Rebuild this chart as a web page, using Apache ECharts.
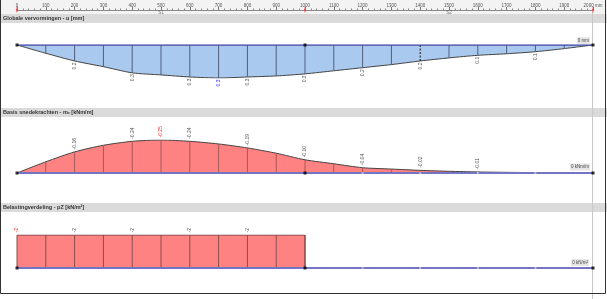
<!DOCTYPE html>
<html>
<head>
<meta charset="utf-8">
<script src="https://cdn.jsdelivr.net/npm/echarts@6/dist/echarts.min.js"></script>
<style>
html,body{margin:0;padding:0;background:#fff;}
#c{width:607px;height:299px;}
</style>
</head>
<body>
<div id="c"></div>
<script>
// ---- data ----
const positions = [0,100,200,300,400,500,600,700,800,900,1000,1100,1200,1300,1400,1500,1600,1700,1800,1900,2000];
const deflection = [0,0.08,0.155,0.21,0.27,0.29,0.31,0.32,0.31,0.30,0.28,0.25,0.22,0.19,0.155,0.125,0.10,0.085,0.065,0.035,0];
const moment = [0,-0.085,-0.16,-0.21,-0.24,-0.25,-0.24,-0.22,-0.19,-0.15,-0.10,-0.07,-0.04,-0.03,-0.02,-0.013,-0.008,-0.005,-0.003,-0.001,0];
const load = [-2,-2,-2,-2,-2,-2,-2,-2,-2,-2,-2,0,0,0,0,0,0,0,0,0,0];
const deflLabelAt = [200,400,600,700,800,1000,1200,1400,1600,1800];
const deflMaxAt = 700;
const momentLabelAt = [200,400,500,600,800,1000,1200,1400,1600];
const momentMinAt = 500;
const loadLabelAt = [0,200,400,600,800];
const loadRedAt = 0;
const zeroMarksAt = [1200,1400,1600,1800];
const nodes = [0,1000,2000];
const spanNames = ['S1','S2'];
const spanCenters = [500,1500];
const dashedAt = 1400;
const rulerMax = 2000;
const rulerUnit = 'mm';
const titles = ['Globale vervormingen - u [mm]','Basis snedekrachten - mₓ [kNm/m]','Belastingverdeling - pZ [kN/m²]'];
const endLabels = ['0 mm','0 kNm/m','0 kN/m²'];

// ---- helpers ----
const FONT = '"Liberation Sans", Arial, sans-serif';
const valAt = (arr, x) => arr[positions.indexOf(x)];
const pairs = arr => positions.map((x,i)=>[x, arr[i]]);

function hatchSeries(gi, arr, color, skipZero){
  return {
    type:'custom', xAxisIndex:gi, yAxisIndex:gi, silent:true, z:3,
    data: pairs(arr).filter(p => !(skipZero && p[1]===0)),
    renderItem:(params, api)=>{
      const x = api.value(0), v = api.value(1);
      const p0 = api.coord([x,0]), p1 = api.coord([x,v]);
      const dashed = (gi===1 && x===dashedAt);
      return {type:'line', shape:{x1:p0[0],y1:p0[1],x2:p1[0],y2:p1[1]},
        style:{stroke: dashed ? '#111' : color, lineWidth:1, lineDash: dashed ? [2,1.5] : null}};
    }
  };
}
function labelSeries(gi, arr, xs, digits, below, hiX, hiColor){
  return {
    type:'custom', xAxisIndex:gi, yAxisIndex:gi, silent:true, z:6,
    data: xs.map(x => [x, valAt(arr,x)]),
    renderItem:(params, api)=>{
      const x = api.value(0), v = api.value(1);
      const p = api.coord([x,v]);
      const txt = v.toFixed(digits);
      return {type:'text', x:p[0], y: below ? p[1]+1.5 : p[1]-2.5, rotation: Math.PI/2,
        style:{text: txt, fill: x===hiX ? hiColor : '#555', font: '5px ' + FONT,
          align: below ? 'right' : 'left', verticalAlign:'middle'}};
    }
  };
}
function baseLine(gi, color, width){
  return {type:'line', xAxisIndex:gi, yAxisIndex:gi, data:[[0,0],[rulerMax,0]], symbol:'none', silent:true, z:4,
    lineStyle:{color:color, width:width}};
}
function nodeSeries(gi){
  return {type:'scatter', xAxisIndex:gi, yAxisIndex:gi, data: nodes.map(x=>[x,0]), symbol:'rect', symbolSize:3, silent:true, z:7,
    itemStyle:{color:'#000'}};
}
function zeroMarks(gi){
  return {type:'scatter', xAxisIndex:gi, yAxisIndex:gi, data: zeroMarksAt.map(x=>[x,0]), symbol:'rect', symbolSize:[2,2], silent:true, z:5,
    itemStyle:{color:'#c8c8c8'}};
}

const L = 17, R = 14;
const chart = echarts.init(document.getElementById('c'), null, {renderer:'canvas'});
const option = {
  animation:false,
  backgroundColor:'#fff',
  grid:[
    {left:L, right:R, top:9, height:1},
    {left:L, right:R, top:45, height:33},
    {left:L, right:R, top:140, height:33},
    {left:L, right:R, top:235, height:33}
  ],
  xAxis:[
    {gridIndex:0, type:'value', min:0, max:rulerMax, interval:100, position:'top',
      axisLine:{show:true, lineStyle:{color:'#8a8a8a', width:1}},
      axisTick:{show:true, length:3, lineStyle:{color:'#777'}},
      minorTick:{show:true, splitNumber:5, length:1.5, lineStyle:{color:'#888'}},
      splitLine:{show:false},
      axisLabel:{fontSize:4.5, color:'#555', margin:1, fontFamily:FONT,
        formatter: v => v===rulerMax ? v + ' ' + rulerUnit : String(v)}},
    {gridIndex:1, type:'value', min:0, max:rulerMax, show:false},
    {gridIndex:2, type:'value', min:0, max:rulerMax, show:false},
    {gridIndex:3, type:'value', min:0, max:rulerMax, show:false}
  ],
  yAxis:[
    {gridIndex:0, type:'value', min:0, max:1, show:false},
    {gridIndex:1, type:'value', min:0, max:0.32, inverse:true, show:false},
    {gridIndex:2, type:'value', min:-0.25, max:0, inverse:true, show:false},
    {gridIndex:3, type:'value', min:-2, max:0, inverse:true, show:false}
  ],
  graphic:[
    {type:'rect', shape:{x:0,y:0,width:607,height:14}, style:{fill:'#f3f3f3'}, z:-10, silent:true},
    {type:'rect', shape:{x:0,y:14,width:607,height:9}, style:{fill:'#dadada'}, z:-10, silent:true},
    {type:'rect', shape:{x:0,y:108,width:607,height:9}, style:{fill:'#dadada'}, z:-10, silent:true},
    {type:'rect', shape:{x:0,y:203,width:607,height:9}, style:{fill:'#dadada'}, z:-10, silent:true},
    {type:'text', x:3, y:18.5, style:{text:titles[0], fill:'#333', font:'bold 5.5px ' + FONT, verticalAlign:'middle'}, silent:true},
    {type:'text', x:3, y:112.5, style:{text:titles[1], fill:'#333', font:'bold 5.5px ' + FONT, verticalAlign:'middle'}, silent:true},
    {type:'text', x:3, y:207.5, style:{text:titles[2], fill:'#333', font:'bold 5.5px ' + FONT, verticalAlign:'middle'}, silent:true},
    {type:'line', shape:{x1:592.5,y1:12,x2:592.5,y2:299}, style:{stroke:'#c8c8c8', lineWidth:1}, z:-5, silent:true},
    {type:'text', x:590, y:40.5, style:{text:endLabels[0], fill:'#444', font:'4.5px ' + FONT, align:'right', verticalAlign:'middle',
      backgroundColor:'#e6e6e6', padding:[1,1]}, silent:true},
    {type:'text', x:590, y:167, style:{text:endLabels[1], fill:'#444', font:'4.5px ' + FONT, align:'right', verticalAlign:'middle',
      backgroundColor:'#e6e6e6', padding:[1,1]}, silent:true},
    {type:'text', x:589, y:262.5, style:{text:endLabels[2], fill:'#444', font:'4.5px ' + FONT, align:'right', verticalAlign:'middle',
      backgroundColor:'#e6e6e6', padding:[1,1]}, silent:true},
    {type:'polyline', shape:{points:[[0.5,0],[0.5,293.5],[605.5,293.5],[605.5,0]]}, style:{stroke:'#333', fill:null, lineWidth:1}, silent:true, z:20}
  ],
  series:[
    // ruler markers
    {type:'scatter', xAxisIndex:0, yAxisIndex:0, data: nodes.map(x=>[x,0.5]), symbol:'rect', symbolSize:[1,6], silent:true,
      itemStyle:{color:'#e04848'}},
    {type:'scatter', xAxisIndex:0, yAxisIndex:0, data: nodes.map(x=>[x,0]), symbol:'circle', symbolSize:2.5, silent:true,
      itemStyle:{color:'#e04848'}},
    {type:'scatter', xAxisIndex:0, yAxisIndex:0, data: spanCenters.map((x,i)=>({value:[x,0], name:spanNames[i]})), symbolSize:0, silent:true,
      label:{show:true, position:'bottom', distance:0.5, formatter: p => p.name, fontSize:4.5, color:'#555', fontFamily:FONT}},

    // panel 1: deflection
    {type:'line', xAxisIndex:1, yAxisIndex:1, data:pairs(deflection), symbol:'none', silent:true, z:2, smooth:0.25,
      lineStyle:{color:'#444', width:1}, areaStyle:{color:'#a9c9ef', opacity:1}},
    hatchSeries(1, deflection, '#4f5f7a', true),
    baseLine(1, '#4a4aa8', 1.5),
    nodeSeries(1),
    labelSeries(1, deflection, deflLabelAt, 1, true, deflMaxAt, '#3030ff'),

    // panel 2: moment
    {type:'line', xAxisIndex:2, yAxisIndex:2, data:pairs(moment), symbol:'none', silent:true, z:2, smooth:0.25,
      lineStyle:{color:'#444', width:1}, areaStyle:{color:'#ff8282', opacity:1}},
    hatchSeries(2, moment, '#a85858', true),
    baseLine(2, '#7474c4', 2),
    zeroMarks(2),
    nodeSeries(2),
    labelSeries(2, moment, momentLabelAt, 2, false, momentMinAt, '#ff2020'),

    // panel 3: load
    {type:'line', xAxisIndex:3, yAxisIndex:3, data:pairs(load), step:'start', symbol:'none', silent:true, z:2,
      lineStyle:{color:'#6a4040', width:1}, areaStyle:{color:'#ff8282', opacity:1}},
    hatchSeries(3, load, '#8a4a4a', true),
    baseLine(3, '#7474c4', 2),
    zeroMarks(3),
    nodeSeries(3),
    labelSeries(3, load, loadLabelAt, 0, false, loadRedAt, '#ff2020')
  ]
};
chart.setOption(option);
</script>
</body>
</html>
